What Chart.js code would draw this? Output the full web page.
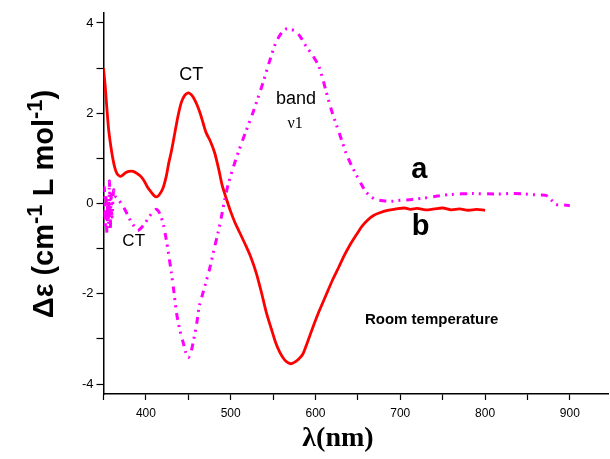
<!DOCTYPE html>
<html>
<head>
<meta charset="utf-8">
<script src="https://cdn.jsdelivr.net/npm/chart.js@4/dist/chart.umd.min.js"></script>
<style>
  html, body { margin: 0; padding: 0; background: #fff; }
  #wrap { width: 610px; height: 459px; }
</style>
</head>
<body>
<div id="wrap"><canvas id="chart" width="610" height="459"></canvas></div>
<script>
// curve a (magenta, dash-dot-dot)
let waveA = [350,351,352,353,354,355,356,357,358,359,360,362,364,366,369,373,377,381,386,390,394,398,402,406,410,413,417,421,424,427,430,433,436,440,444,447,450,453,456,460,463,467,471,475,480,485,489,493,497,503,510,518,526,532,538,545,553,560,566,572,577,583,589,597,604,608,612,616,620,624,628,632,636,642,648,654,659,665,671,680,690,700,714,728,742,760,785,812,830,847,860,872,878,883,890,896,900];
let epsA = [-0.3,0.35,-0.55,0.2,-0.65,0.1,-0.45,0.5,-0.6,0.25,-0.3,0.3,0.16,0.12,0.05,-0.06,-0.2,-0.35,-0.5,-0.6,-0.55,-0.46,-0.35,-0.24,-0.16,-0.13,-0.25,-0.5,-0.8,-1.15,-1.53,-1.95,-2.41,-2.8,-3.08,-3.3,-3.41,-3.3,-3.05,-2.65,-2.27,-2.0,-1.73,-1.46,-1.05,-0.65,-0.3,0.09,0.42,0.8,1.19,1.6,2.0,2.33,2.67,3.1,3.55,3.78,3.87,3.85,3.81,3.67,3.48,3.27,3.04,2.8,2.52,2.25,2.0,1.78,1.56,1.34,1.12,0.86,0.64,0.43,0.27,0.16,0.09,0.06,0.05,0.07,0.09,0.12,0.16,0.2,0.22,0.21,0.22,0.21,0.19,0.18,0.08,-0.02,-0.03,-0.04,-0.05];

// curve b (red, solid)
let waveB = [350,352,354,356,358,360,362,364,366,368,370,372,376,380,385,390,394,398,402,406,410,413,416,420,424,427,430,434,438,442,446,450,453,456,460,464,468,471,476,481,486,490,495,500,505,510,518,524,530,536,542,548,553,558,563,567,571,575,580,585,590,596,604,612,620,628,634,640,648,655,662,668,675,685,695,705,712,720,730,740,750,760,770,780,790,800];
let epsB = [3.0,2.6,2.1,1.65,1.35,1.1,0.9,0.75,0.66,0.62,0.6,0.62,0.68,0.71,0.71,0.66,0.6,0.5,0.36,0.26,0.17,0.15,0.2,0.33,0.6,0.9,1.15,1.55,1.95,2.25,2.4,2.45,2.42,2.35,2.2,2.0,1.75,1.57,1.38,1.13,0.75,0.4,0.1,-0.18,-0.42,-0.62,-0.94,-1.2,-1.53,-1.95,-2.41,-2.78,-3.08,-3.3,-3.45,-3.52,-3.55,-3.52,-3.45,-3.34,-3.1,-2.79,-2.4,-2.05,-1.7,-1.39,-1.15,-0.94,-0.7,-0.5,-0.36,-0.27,-0.21,-0.15,-0.12,-0.1,-0.13,-0.11,-0.14,-0.12,-0.1,-0.14,-0.12,-0.15,-0.13,-0.15];

let xTicks = [400,500,600,700,800,900];
let yTicks = [-4,-2,0,2,4];

let notes = [
  {text: 'CT', x: 453.6, y: 2.85, font: '18px "Liberation Sans", Arial'},
  {text: 'CT', x: 385.6, y: -0.83, font: '17px "Liberation Sans", Arial'},
  {text: 'band', x: 577, y: 2.32, font: '18px "Liberation Sans", Arial'},
  {text: 'ν1', x: 576, y: 1.77, font: '16px "Liberation Serif", "Times New Roman", serif'},
  {text: 'a', x: 722.5, y: 0.75, font: 'bold 29px "Liberation Sans", Arial'},
  {text: 'b', x: 724, y: -0.51, font: 'bold 29px "Liberation Sans", Arial'},
  {text: 'Room temperature', x: 737, y: -2.57, font: 'bold 15px "Liberation Sans", Arial'}
];

function pts(xs, ys){
  return xs.map((v, i) => ({x: v, y: ys[i]}));
}

// text labels + axis titles (with real superscripts)
const textPlugin = {
  id: 'texts',
  afterDraw(chart){
    const ctx = chart.ctx;
    const sx = chart.scales.x, sy = chart.scales.y;
    ctx.save();
    ctx.fillStyle = '#000';
    ctx.textAlign = 'center';
    ctx.textBaseline = 'middle';
    notes.forEach(n => {
      ctx.font = n.font;
      ctx.fillText(n.text, sx.getPixelForValue(n.x), sy.getPixelForValue(n.y));
    });

    // x title
    ctx.font = 'bold 28px "Liberation Serif", "Times New Roman", serif';
    ctx.textBaseline = 'alphabetic';
    ctx.fillText('λ(nm)', 338, 446);

    // y title, rotated
    const parts = [
      ['Δε (cm', false], ['-1', true], [' L mol', false], ['-1', true], [')', false]
    ];
    const big = 'bold 29px "Liberation Sans", Arial';
    const small = 'bold 22px "Liberation Sans", Arial';
    let total = 0;
    parts.forEach(p => { ctx.font = p[1] ? small : big; total += ctx.measureText(p[0]).width; });
    ctx.translate(53, 204);
    ctx.rotate(-Math.PI / 2);
    ctx.textAlign = 'left';
    let pos = -total / 2;
    parts.forEach(p => {
      ctx.font = p[1] ? small : big;
      ctx.fillText(p[0], pos, p[1] ? -11 : 0);
      pos += ctx.measureText(p[0]).width;
    });
    ctx.restore();
  }
};

const ctx = document.getElementById('chart').getContext('2d');
const chart = new Chart(ctx, {
  type: 'line',
  data: {
    datasets: [{
      label: 'a',
      data: pts(waveA, epsA),
      borderColor: '#ff00ff',
      borderWidth: 3,
      borderDash: [7, 5, 2, 5, 2, 6],
      pointRadius: 0,
      tension: 0.3,
      fill: false
    }, {
      label: 'b',
      data: pts(waveB, epsB),
      borderColor: '#ff0000',
      borderWidth: 2.8,
      pointRadius: 0,
      tension: 0.3,
      fill: false
    }]
  },
  options: {
    responsive: false,
    animation: false,
    layout: { padding: { top: 13, right: 2, left: 0, bottom: 0 } },
    plugins: {
      legend: { display: false },
      tooltip: { enabled: false }
    },
    scales: {
      x: {
        type: 'linear',
        min: 350,
        max: 945,
        afterFit(s){ s.height = 65; },
        border: { color: '#000', width: 1.5 },
        grid: { drawOnChartArea: false, color: '#000', tickLength: 6, tickWidth: 1.2 },
        ticks: {
          stepSize: 50,
          includeBounds: false,
          autoSkip: false,
          maxRotation: 0,
          padding: 6,
          color: '#000',
          font: { family: '"Liberation Sans", Arial', size: 12 },
          callback: v => xTicks.includes(v) ? String(v) : ''
        }
      },
      y: {
        min: -4.22,
        max: 4.22,
        afterFit(s){ s.width = 103.5; },
        border: { color: '#000', width: 1.5 },
        grid: { drawOnChartArea: false, color: '#000', tickLength: 7, tickWidth: 1.2 },
        ticks: {
          stepSize: 1,
          includeBounds: false,
          autoSkip: false,
          padding: 3,
          color: '#000',
          font: { family: '"Liberation Sans", Arial', size: 13 },
          callback: v => yTicks.includes(v) ? String(v) : ''
        }
      }
    }
  },
  plugins: [textPlugin]
});
</script>
</body>
</html>
